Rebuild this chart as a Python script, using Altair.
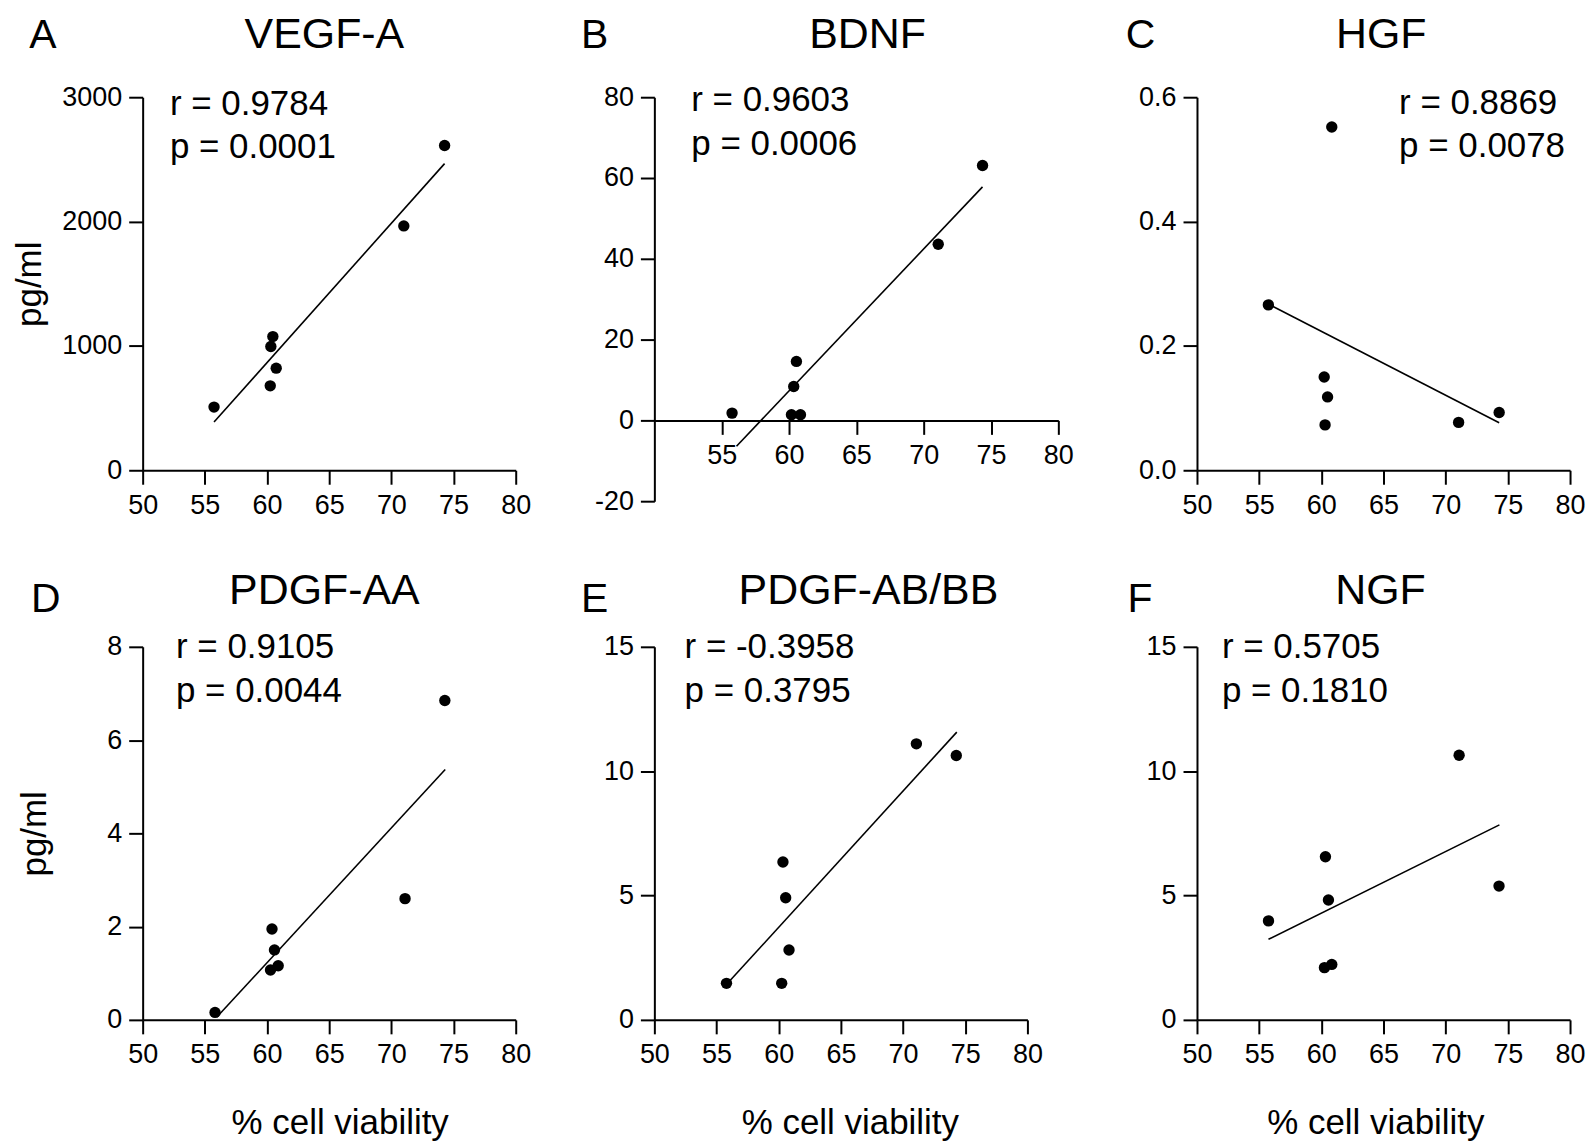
import altair as alt
import pandas as pd

FONT = "Liberation Sans"

# ---------------- data ----------------
x_ticks = [50, 55, 60, 65, 70, 75, 80]
x_ticks_b = [55, 60, 65, 70, 75, 80]

vegf_x = [55.74, 60.26, 60.31, 60.47, 60.74, 71.00, 74.28]
vegf_y = [508, 679, 995, 1075, 821, 1965, 2612]
vegf_fit_x = [55.74, 74.28]
vegf_fit_y = [388, 2466]

bdnf_x = [55.77, 60.18, 60.85, 60.35, 60.55, 71.08, 74.37]
bdnf_y = [1.8, 1.4, 1.4, 8.4, 14.6, 43.6, 63.1]
bdnf_fit_x = [56.1, 74.37]
bdnf_fit_y = [-6.4, 57.8]

hgf_x = [55.74, 60.23, 60.50, 60.30, 60.84, 71.04, 74.30]
hgf_y = [0.266, 0.150, 0.118, 0.073, 0.552, 0.077, 0.093]
hgf_fit_x = [55.96, 74.30]
hgf_fit_y = [0.265, 0.0765]

pdgfaa_x = [55.82, 60.40, 60.60, 60.28, 60.90, 71.10, 74.30]
pdgfaa_y = [0.16, 1.95, 1.50, 1.07, 1.16, 2.60, 6.85]
pdgfaa_fit_x = [55.97, 74.33]
pdgfaa_fit_y = [0.06, 5.37]

pdgfab_x = [55.80, 60.24, 60.34, 60.56, 60.83, 71.07, 74.28]
pdgfab_y = [1.47, 1.47, 6.35, 4.91, 2.81, 11.10, 10.63]
pdgfab_fit_x = [56.07, 74.32]
pdgfab_fit_y = [1.57, 11.57]

ngf_x = [55.75, 60.25, 60.84, 60.33, 60.57, 71.08, 74.29]
ngf_y = [3.98, 2.10, 2.23, 6.56, 4.82, 10.64, 5.38]
ngf_fit_x = [55.75, 74.32]
ngf_fit_y = [3.24, 7.84]

HYPHEN_MINUS = "replace(datum.label, '\u2212', '-')"


def txt(s, x, y, size, align="left"):
    return alt.Chart(pd.DataFrame({"t": [s]})).mark_text(
        font=FONT, fontSize=size, align=align, baseline="alphabetic", color="black"
    ).encode(x=alt.value(x), y=alt.value(y), text="t:N")


def panel(px, py, fx, fy, ydom, yvals, yfmt, w, h,
          letter, letter_xy, title, title_xy, r_txt, p_txt, ann_xy,
          xvals=x_ticks, x_offset=0, y_title=None, y_title_x=None,
          x_title=None, x_title_x=None):
    common = dict(grid=False, domainColor="black", domainWidth=2, tickColor="black",
                  tickWidth=2, tickSize=14, labelFont=FONT, labelFontSize=27,
                  labelColor="black", labelFlush=False, labelOverlap=False,
                  titleFont=FONT, titleFontSize=35, titleFontWeight="normal",
                  titleColor="black", labelExpr=HYPHEN_MINUS)
    xkw = dict(values=xvals, offset=x_offset, labelPadding=8, format="d")
    if x_title:
        xkw.update(title=x_title, titleX=x_title_x, titleY=114, titleBaseline="alphabetic")
    else:
        xkw.update(title=None)
    ykw = dict(values=yvals, labelPadding=7, format=yfmt)
    if y_title:
        ykw.update(title=y_title, titleX=y_title_x, titleBaseline="bottom")
    else:
        ykw.update(title=None)
    xenc = alt.X("x:Q", scale=alt.Scale(domain=[50, 80], nice=False, zero=False),
                 axis=alt.Axis(**common, **xkw))
    yenc = alt.Y("y:Q", scale=alt.Scale(domain=ydom, nice=False, zero=False),
                 axis=alt.Axis(**common, **ykw))
    pts = alt.Chart(pd.DataFrame({"x": px, "y": py})).mark_circle(
        size=130, color="black", opacity=1).encode(x=xenc, y=yenc)
    fit = alt.Chart(pd.DataFrame({"x": fx, "y": fy})).mark_line(
        color="black", strokeWidth=1.6).encode(x=xenc, y=yenc)
    texts = [
        txt(letter, letter_xy[0], letter_xy[1], 41),
        txt(title, title_xy[0], title_xy[1], 43, align="center"),
        txt(r_txt, ann_xy[0], ann_xy[1], 35),
        txt(p_txt, ann_xy[0], ann_xy[2], 35),
    ]
    return alt.layer(pts, fit, *texts).properties(width=w, height=h)


A = panel(vegf_x, vegf_y, vegf_fit_x, vegf_fit_y, [0, 3000], [0, 1000, 2000, 3000], "d",
          374, 374, "A", (-113.6, -49.7), "VEGF-A", (182.2, -49),
          "r = 0.9784", "p = 0.0001", (27.3, 17.6, 61),
          y_title="pg/ml", y_title_x=-95)
B = panel(bdnf_x, bdnf_y, bdnf_fit_x, bdnf_fit_y, [-20, 80], [-20, 0, 20, 40, 60, 80], "d",
          405, 405, "B", (-73.6, -49.7), "BDNF", (213.8, -49),
          "r = 0.9603", "p = 0.0006", (37, 14.3, 57.7),
          xvals=x_ticks_b, x_offset=-81)
C = panel(hgf_x, hgf_y, hgf_fit_x, hgf_fit_y, [0, 0.6], [0, 0.2, 0.4, 0.6], ".1f",
          374, 374, "C", (-71.4, -49.7), "HGF", (184.7, -49),
          "r = 0.8869", "p = 0.0078", (202.6, 16.6, 60))
D = panel(pdgfaa_x, pdgfaa_y, pdgfaa_fit_x, pdgfaa_fit_y, [0, 8], [0, 2, 4, 6, 8], "d",
          374, 374, "D", (-111.9, -35), "PDGF-AA", (182.2, -42.6),
          "r = 0.9105", "p = 0.0044", (33.4, 11.4, 55.5),
          y_title="pg/ml", y_title_x=-90,
          x_title="% cell viability", x_title_x=197.5)
E = panel(pdgfab_x, pdgfab_y, pdgfab_fit_x, pdgfab_fit_y, [0, 15], [0, 5, 10, 15], "d",
          374, 374, "E", (-73.6, -35), "PDGF-AB/BB", (214.6, -42.6),
          "r = -0.3958", "p = 0.3795", (30.3, 11.3, 55.4),
          x_title="% cell viability", x_title_x=196)
F = panel(ngf_x, ngf_y, ngf_fit_x, ngf_fit_y, [0, 15], [0, 5, 10, 15], "d",
          374, 374, "F", (-69.7, -35), "NGF", (183.9, -42.6),
          "r = 0.5705", "p = 0.1810", (25, 11.3, 55.4),
          x_title="% cell viability", x_title_x=178.8)

chart = alt.concat(
    A, B, C, D, E, F, columns=3, spacing={"row": 146, "column": 139}, bounds="flush"
).properties(
    padding={"left": 5, "top": 5, "right": 0, "bottom": 0}
).configure(background="white").configure_view(stroke=None, strokeWidth=0)

chart.save("out.html", embed_options={"renderer": "svg", "actions": False})
